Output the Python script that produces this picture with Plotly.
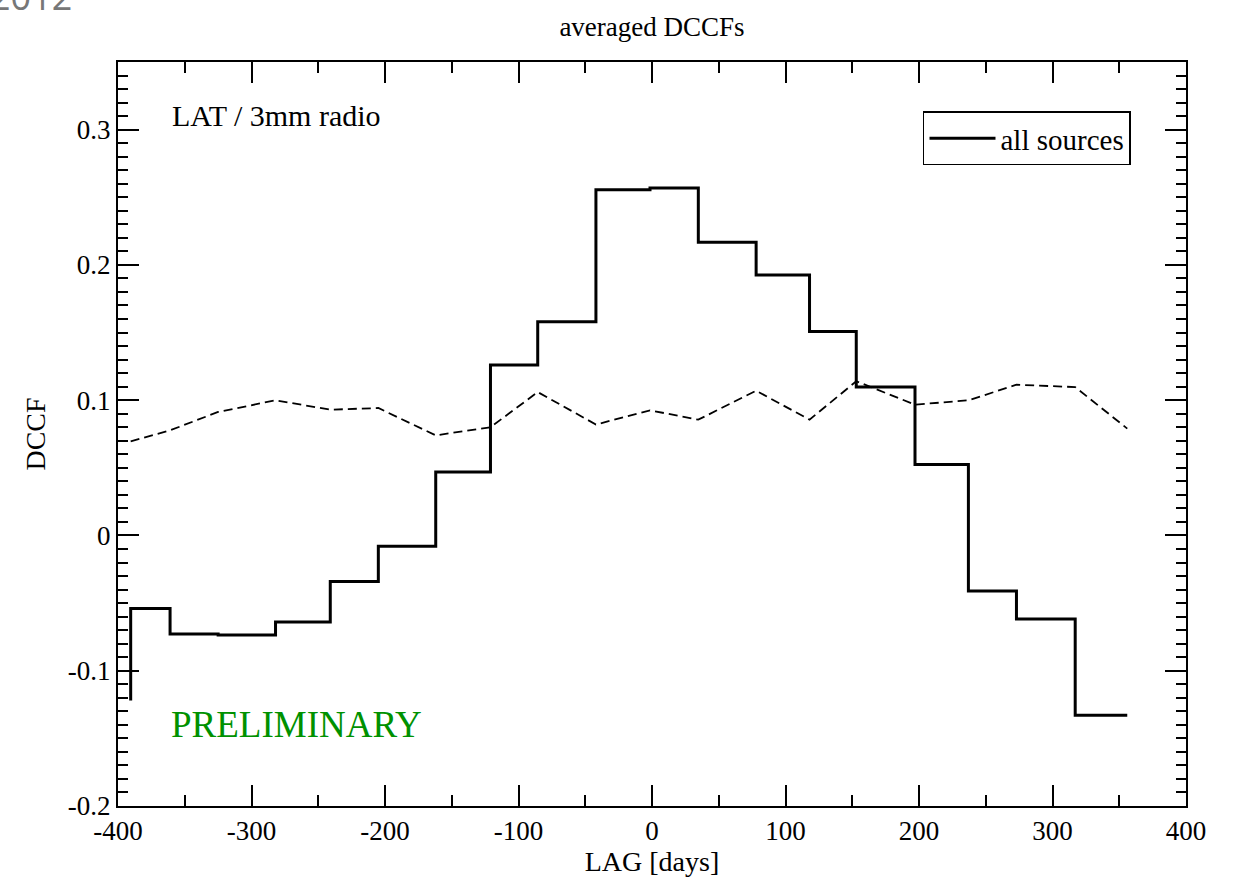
import plotly.graph_objects as go

# ---- data ----
lag_days = [-390.5, -361, -325, -282, -241, -205, -162, -121, -85.6, -42,
            -1.5, 34.7, 78, 118, 153, 197, 237, 273, 317, 356]
dccf_all = [-0.122, -0.054, -0.0728, -0.0735, -0.064, -0.034, -0.008, 0.047,
            0.126, 0.158, 0.2556, 0.2568, 0.2167, 0.1926, 0.1508, 0.1097,
            0.0524, -0.041, -0.0617, -0.133]
dccf_level = [0.0696, 0.0777, 0.0913, 0.0999, 0.093, 0.0942, 0.074, 0.080,
              0.106, 0.082, 0.0925, 0.0856, 0.107, 0.0856, 0.114, 0.0967,
              0.0999, 0.1114, 0.1097, 0.079]

x_tickvals = [-400, -300, -200, -100, 0, 100, 200, 300, 400]
x_ticktext = ["-400", "-300", "-200", "-100", "0", "100", "200", "300", "400"]
y_tickvals = [-0.2, -0.1, 0, 0.1, 0.2, 0.3]
y_ticktext = ["-0.2", "-0.1", "0", "0.1", "0.2", "0.3"]

SERIF = "Liberation Serif, Times New Roman, serif"

fig = go.Figure()
fig.add_trace(go.Scatter(
    x=lag_days, y=dccf_level, mode="lines", showlegend=False,
    line=dict(color="black", width=1.8, dash="9px,5px"), hoverinfo="skip"))
fig.add_trace(go.Scatter(
    x=lag_days, y=dccf_all, mode="lines", name="all sources",
    line=dict(color="black", width=3, shape="vh")))

axis_common = dict(
    showline=True, linecolor="black", linewidth=2, mirror="allticks",
    ticks="inside", ticklen=21, tickwidth=1.5, tickcolor="black",
    showgrid=False, zeroline=False,
    tickfont=dict(family=SERIF, size=27, color="black"),
)

fig.update_xaxes(
    range=[-400, 400], tickmode="array", tickvals=x_tickvals, ticktext=x_ticktext,
    minor=dict(tickmode="linear", tick0=0, dtick=50, ticks="inside", ticklen=11,
               tickwidth=1.5, tickcolor="black", showgrid=False),
    title=dict(text="LAG [days]", font=dict(family=SERIF, size=28, color="black"),
               standoff=0),
    **axis_common)
fig.update_yaxes(
    range=[-0.2, 0.35], tickmode="array", tickvals=y_tickvals, ticktext=y_ticktext,
    minor=dict(tickmode="linear", tick0=0, dtick=0.01, ticks="inside", ticklen=10,
               tickwidth=1.5, tickcolor="black", showgrid=False),
    title=dict(text="DCCF", font=dict(family=SERIF, size=28, color="black"),
               standoff=14),
    **axis_common)

fig.update_layout(
    width=1233, height=878,
    margin=dict(l=118, r=47, t=62, b=70),
    paper_bgcolor="white", plot_bgcolor="white",
    title=dict(text="averaged DCCFs", x=0.5, xref="paper", xanchor="center",
               y=1 - 27 / 878, yref="container", yanchor="middle",
               font=dict(family=SERIF, size=27, color="black")),
    legend=dict(x=0.9485, xanchor="right", y=0.9335, yanchor="top",
                bgcolor="white", bordercolor="black", borderwidth=1.5,
                itemwidth=66,
                font=dict(family=SERIF, size=29, color="black")),
    annotations=[
        dict(text="LAT / 3mm radio", xref="paper", yref="paper",
             x=0.0487, y=0.9276, xanchor="left", yanchor="middle", showarrow=False,
             font=dict(family=SERIF, size=30, color="black")),
        dict(text="PRELIMINARY", xref="paper", yref="paper",
             x=0.0478, y=0.1099, xanchor="left", yanchor="middle", showarrow=False,
             font=dict(family=SERIF, size=37, color="rgb(0,145,0)")),
        dict(text="2012", xref="paper", yref="paper",
             x=-0.0412, y=1.088, xanchor="right", yanchor="middle", showarrow=False,
             font=dict(family="Open Sans, sans-serif", size=36, color="#777777")),
    ],
)

fig.write_html("out.html")
